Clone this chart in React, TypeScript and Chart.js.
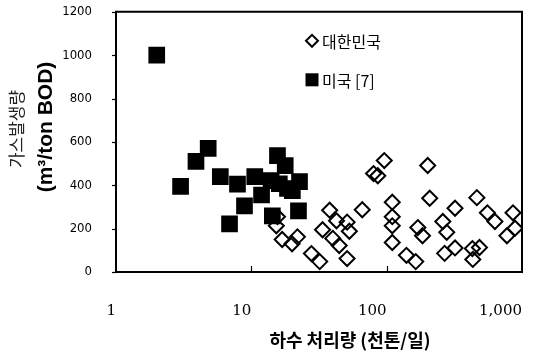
import React, { useEffect, useRef } from "react";
import { Chart, registerables } from "chart.js";

Chart.register(...registerables);

// ---- Data ----
const koreaLabel = "대한민국";
const usLabel = "미국 [7]";

const koreaX = [15.6, 15.3, 16.9, 21.9, 20, 27.8, 32, 37.9, 42.6, 33.6, 40, 44.6, 51, 53, 51, 66, 80, 86, 96, 110, 110, 110, 110, 170, 184, 140, 164, 201, 208, 260, 278, 320, 268, 320, 430, 485, 433, 464, 555, 631, 858, 888, 774];
const koreaY = [255, 213, 150, 162, 130, 85, 48, 285, 236, 195, 155, 122, 230, 188, 62, 287, 454, 444, 514, 322, 255, 213, 136, 205, 167, 77, 48, 491, 340, 233, 183, 294, 86, 111, 108, 113, 58, 343, 273, 233, 273, 202, 167];

const usX = [2, 3, 3.9, 4.8, 5.9, 6.9, 7.9, 8.9, 10.6, 11.9, 14, 14.3, 15.6, 16.1, 17.8, 18.5, 20.1, 22.7, 22.3];
const usY = [1000, 395, 510, 570, 440, 222, 405, 305, 440, 355, 421, 259, 537, 407, 491, 385, 375, 417, 282];

const xTickValues = [1, 10, 100, 1000];
const xTickLabels = ["1", "10", "100", "1,000"];
const yMin = 0;
const yMax = 1200;
const yStep = 200;

const xTitle = "하수 처리량 (천톤/일)";
const yTitleLine1 = "가스발생량";
const yTitleLine2 = "(m³/ton BOD)";

const LINE = "#000000";

const toPoints = (xs: number[], ys: number[]) => xs.map((x, i) => ({ x, y: ys[i] }));

const decorPlugin = {
  id: "decor",
  afterDraw(chart: any) {
    const { ctx, chartArea } = chart;
    const { left, right, top, bottom } = chartArea;
    ctx.save();
    // frame
    ctx.strokeStyle = LINE;
    ctx.lineWidth = 2;
    ctx.beginPath();
    ctx.moveTo(left, top);
    ctx.lineTo(right, top);
    ctx.lineTo(right, bottom);
    ctx.lineTo(left, bottom);
    ctx.closePath();
    ctx.stroke();
    // inner x ticks
    const xs = chart.scales.x;
    ctx.lineWidth = 1.2;
    [10, 100].forEach((v) => {
      const px = Math.round(xs.getPixelForValue(v)) + 0.5;
      ctx.beginPath();
      ctx.moveTo(px, bottom);
      ctx.lineTo(px, bottom - 6);
      ctx.stroke();
    });
    // outer y ticks
    const ys = chart.scales.y;
    for (let v = yMin; v <= yMax; v += yStep) {
      const py = Math.round(ys.getPixelForValue(v)) + 0.5;
      ctx.beginPath();
      ctx.moveTo(left - 4, py);
      ctx.lineTo(left, py);
      ctx.stroke();
    }
    // legend
    ctx.strokeStyle = "#000";
    ctx.fillStyle = "#000";
    const lx = left + 196;
    const ly1 = top + 29;
    const ly2 = top + 68;
    ctx.lineWidth = 2;
    ctx.beginPath();
    ctx.moveTo(lx - 6, ly1);
    ctx.lineTo(lx, ly1 - 6);
    ctx.lineTo(lx + 6, ly1);
    ctx.lineTo(lx, ly1 + 6);
    ctx.closePath();
    ctx.stroke();
    ctx.fillRect(lx - 6.5, ly2 - 6.5, 13, 13);
    ctx.textBaseline = "middle";
    ctx.textAlign = "left";
    ctx.font = '16px "Noto Sans CJK KR"';
    ctx.fillText(koreaLabel, lx + 10, ly1 + 1);
    ctx.fillText(usLabel, lx + 10, ly2 + 1);
    // y title
    ctx.save();
    ctx.translate(17, 129);
    ctx.rotate(-Math.PI / 2);
    ctx.textAlign = "center";
    ctx.textBaseline = "middle";
    ctx.fillStyle = "#222";
    ctx.font = '17px "Noto Sans CJK KR"';
    ctx.fillText(yTitleLine1, 0, 0);
    ctx.restore();
    ctx.save();
    ctx.translate(46, 127);
    ctx.rotate(-Math.PI / 2);
    ctx.textAlign = "center";
    ctx.textBaseline = "middle";
    ctx.fillStyle = "#000";
    ctx.font = 'bold 21px "Liberation Sans"';
    ctx.fillText(yTitleLine2, 0, 0);
    ctx.restore();
    // x title
    ctx.textAlign = "center";
    ctx.textBaseline = "middle";
    ctx.font = 'bold 18px "Noto Sans CJK KR"';
    ctx.fillText(xTitle, 350, 340);
    ctx.restore();
  },
};

export default function App() {
  const canvasRef = useRef<HTMLCanvasElement | null>(null);

  useEffect(() => {
    if (!canvasRef.current) return;
    const chart = new Chart(canvasRef.current, {
      type: "scatter",
      data: {
        datasets: [
          {
            label: koreaLabel,
            data: toPoints(koreaX, koreaY),
            pointStyle: "rectRot",
            pointRadius: 7.5,
            pointBorderWidth: 2,
            borderColor: "#000",
            backgroundColor: "rgba(0,0,0,0)",
          },
          {
            label: usLabel,
            data: toPoints(usX, usY),
            pointStyle: "rect",
            pointRadius: 11.8,
            pointBorderWidth: 0,
            borderColor: "#000",
            backgroundColor: "#000",
          },
        ],
      },
      options: {
        animation: false,
        responsive: true,
        maintainAspectRatio: false,
        layout: { padding: { left: 0, right: 32, top: 6, bottom: 0 } },
        plugins: { legend: { display: false }, tooltip: { enabled: false } },
        scales: {
          x: {
            type: "logarithmic",
            min: 1,
            max: 1000,
            afterBuildTicks: (axis: any) => {
              axis.ticks = xTickValues.map((v) => ({ value: v }));
            },
            afterFit: (axis: any) => {
              axis.height = 81;
            },
            grid: {
              display: true,
              drawOnChartArea: false,
              drawTicks: true,
              tickLength: 24,
              color: "rgba(0,0,0,0)",
            },
            border: { display: true, color: LINE, width: 2 },
            ticks: {
              autoSkip: false,
              maxRotation: 0,
              align: "end",
              padding: 6,
              color: "#000",
              font: { family: '"DejaVu Serif", serif', size: 15 },
              callback: (v: any) => {
                const i = xTickValues.indexOf(Number(v));
                return i >= 0 ? xTickLabels[i] : "";
              },
            },
          },
          y: {
            min: yMin,
            max: yMax,
            afterFit: (axis: any) => {
              axis.width = 116;
            },
            grid: {
              display: true,
              drawOnChartArea: false,
              drawTicks: true,
              tickLength: 24,
              color: "rgba(0,0,0,0)",
            },
            border: { display: true, color: LINE, width: 2 },
            ticks: {
              stepSize: yStep,
              padding: 0,
              color: "#000",
              font: { family: '"Liberation Sans Narrow", "DejaVu Sans Condensed", sans-serif', size: 13 },
              callback: (v: any) => String(v),
            },
          },
        },
      },
      plugins: [decorPlugin],
    } as any);
    return () => chart.destroy();
  }, []);

  return (
    <div style={{ position: "fixed", left: 0, top: 0, width: 554, height: 353, background: "#fff" }}>
      <canvas ref={canvasRef} />
    </div>
  );
}
